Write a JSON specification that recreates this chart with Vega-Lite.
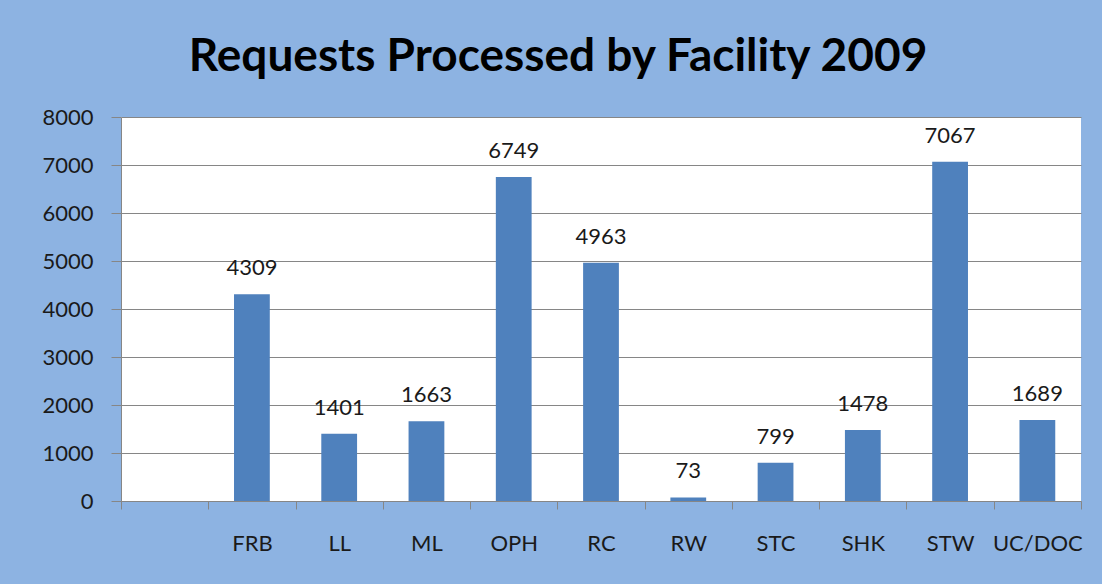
{
  "$schema": "https://vega.github.io/schema/vega-lite/v6.json",
  "width": 960,
  "height": 384,
  "autosize": "none",
  "padding": {"left": 121, "top": 117, "right": 21, "bottom": 83},
  "background": "#8DB3E2",
  "title": {
    "text": "Requests Processed by Facility 2009",
    "font": "Lato",
    "fontSize": 46,
    "fontWeight": "bold",
    "color": "#000000",
    "anchor": "middle",
    "dx": -43,
    "offset": 25
  },
  "config": {
    "view": {"stroke": null, "fill": "#FFFFFF"},
    "axis": {"labelFont": "Lato", "labelColor": "#1a1a1a", "labelFontSize": 22}
  },
  "data": {
    "values": [
      {"facility": "FRB", "requests": 4309},
      {"facility": "LL", "requests": 1401},
      {"facility": "ML", "requests": 1663},
      {"facility": "OPH", "requests": 6749},
      {"facility": "RC", "requests": 4963},
      {"facility": "RW", "requests": 73},
      {"facility": "STC", "requests": 799},
      {"facility": "SHK", "requests": 1478},
      {"facility": "STW", "requests": 7067},
      {"facility": "UC/DOC", "requests": 1689}
    ]
  },
  "encoding": {
    "x": {
      "field": "facility",
      "type": "nominal",
      "sort": null,
      "scale": {"domain": [" ", "FRB", "LL", "ML", "OPH", "RC", "RW", "STC", "SHK", "STW", "UC/DOC"], "paddingInner": 0, "paddingOuter": 0},
      "axis": {"title": null, "labelAngle": 0, "tickBand": "extent", "domainColor": "#868686", "tickColor": "#868686", "tickSize": 8, "labelPadding": 24, "grid": false}
    },
    "y": {
      "field": "requests",
      "type": "quantitative",
      "scale": {"domain": [0, 8000], "nice": false},
      "axis": {"title": null, "format": "d", "values": [0, 1000, 2000, 3000, 4000, 5000, 6000, 7000, 8000], "domainColor": "#868686", "tickColor": "#868686", "tickSize": 10, "labelPadding": 18, "gridColor": "#868686", "gridWidth": 1}
    }
  },
  "layer": [
    {"mark": {"type": "bar", "color": "#4F81BD", "width": {"band": 0.41}}},
    {"mark": {"type": "text", "baseline": "middle", "dy": -26, "font": "Lato", "fontSize": 22, "color": "#1a1a1a"}, "encoding": {"text": {"field": "requests", "type": "quantitative", "format": "d"}}}
  ]
}
